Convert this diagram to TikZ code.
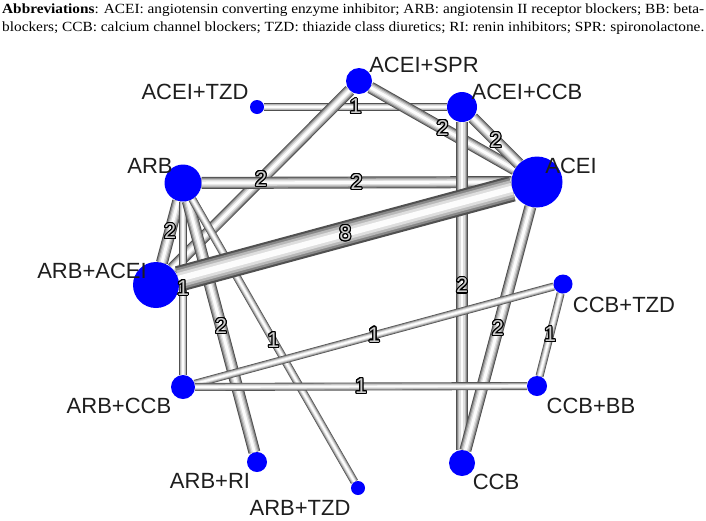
\documentclass[tikz,border=0pt]{standalone}
\usepackage{fontspec}
\usepackage{graphicx}
\setmainfont{Liberation Serif}
\newfontfamily\lsans{Liberation Sans}
\usepackage[copies]{contour}
\contourlength{1.1pt}
\definecolor{nodeblue}{RGB}{0,0,255}
\definecolor{labcol}{RGB}{30,30,30}
\definecolor{wfill}{RGB}{205,205,205}
\pgfdeclarelayer{bg}
\pgfdeclarelayer{fg}
\pgfsetlayers{bg,main,fg}
\newcommand\tube[3]{%
  \foreach \f/\c in {1/80,0.84/135,0.66/185,0.46/222,0.24/252}{%
    \definecolor{tubec}{RGB}{\c,\c,\c}%
    \draw[line width=\f*#3pt, draw=tubec] (#1) -- (#2);
  }}
\newcommand\wt[1]{\contour{black}{\textcolor{wfill}{#1}}}
\begin{document}
\begin{tikzpicture}[x=1pt,y=-1pt,
  nd/.style={circle, fill=nodeblue, draw=none, inner sep=0pt, minimum size=#1},
  lab/.style={font=\lsans\fontsize{22}{22}\selectfont, text=labcol, inner sep=0pt, text height=15.8pt, text depth=0pt},
  wl/.style={font=\lsans\fontsize{21.5}{21.5}\selectfont, inner sep=0pt},
  abbr/.style={font=\fontsize{14}{14}\selectfont, inner sep=0pt, anchor=base west}]
\useasboundingbox (0,0) rectangle (706,520);
% caption
\node[abbr] (abbr1) at (2,13) {\resizebox{702pt}{\height}{\textbf{Abbreviations}: ACEI: angiotensin converting enzyme inhibitor; ARB: angiotensin II receptor blockers; BB: beta-}};
\node[abbr] (abbr2) at (2,31) {\resizebox{702pt}{\height}{blockers; CCB: calcium channel blockers; TZD: thiazide class diuretics; RI: renin inhibitors; SPR: spironolactone.}};
% nodes
\node[nd=26pt] (spr) at (359,81) {};
\node[nd=14pt] (tzd) at (257,107) {};
\node[nd=30pt] (accb) at (462,107) {};
\node[nd=51pt] (acei) at (537,182) {};
\node[nd=37pt] (arb) at (183,183) {};
\node[nd=46pt] (arbacei) at (156,285) {};
\node[nd=24pt] (arbccb) at (183,387) {};
\node[nd=19pt] (ccbtzd) at (563,284) {};
\node[nd=20pt] (ccbbb) at (537,386) {};
\node[nd=20pt] (arbri) at (257,462) {};
\node[nd=14pt] (arbtzd) at (358,488) {};
\node[nd=26pt] (ccb) at (462,463) {};
% node labels
\node[lab] (lspr) at (424,65) {ACEI+SPR};
\node[lab] (ltzd) at (195,92) {ACEI+TZD};
\node[lab] (laccb) at (527,92) {ACEI+CCB};
\node[lab] (lacei) at (571,166) {ACEI};
\node[lab] (larb) at (150,166) {ARB};
\node[lab] (larbacei) at (92,271) {ARB+ACEI};
\node[lab] (larbccb) at (119,406) {ARB+CCB};
\node[lab] (lccbtzd) at (624,305) {CCB+TZD};
\node[lab] (lccbbb) at (591,406) {CCB+BB};
\node[lab] (larbri) at (210,481) {ARB+RI};
\node[lab] (larbtzd) at (300,508) {ARB+TZD};
\node[lab] (lccb) at (496,482) {CCB};
% edges
\begin{pgfonlayer}{bg}
\fill[white] (0,0) rectangle (706,520);
\tube{tzd}{accb}{8}
\tube{spr}{acei}{12}
\tube{accb}{acei}{12}
\tube{spr}{arbacei}{12}
\tube{arb}{acei}{12}
\tube{accb}{ccb}{12}
\tube{acei}{ccb}{12}
\tube{arb}{arbacei}{12}
\tube{arb}{arbccb}{8}
\tube{arb}{arbri}{12}
\tube{arb}{arbtzd}{8}
\tube{arbccb}{ccbtzd}{8}
\tube{arbccb}{ccbbb}{8}
\tube{ccbtzd}{ccbbb}{8}
\tube{arbacei}{acei}{26}
\end{pgfonlayer}
% edge weights
\begin{pgfonlayer}{fg}
\path (tzd) -- (accb) node[wl,pos=.5] (w1) {\wt{1}};
\path (spr) -- (acei) node[wl,pos=.5] (w2) {\wt{2}};
\path (accb) -- (acei) node[wl,pos=.5] (w3) {\wt{2}};
\path (spr) -- (arbacei) node[wl,pos=.5] (w4) {\wt{2}};
\path (arb) -- (acei) node[wl,pos=.5] (w5) {\wt{2}};
\path (arbacei) -- (acei) node[wl,pos=.5] (w6) {\wt{8}};
\path (accb) -- (ccb) node[wl,pos=.5] (w7) {\wt{2}};
\path (acei) -- (ccb) node[wl,pos=.5] (w8) {\wt{2}};
\path (arb) -- (arbacei) node[wl,pos=.5] (w9) {\wt{2}};
\path (arb) -- (arbccb) node[wl,pos=.5] (w10) {\wt{1}};
\path (arb) -- (arbri) node[wl,pos=.5] (w11) {\wt{2}};
\path (arb) -- (arbtzd) node[wl,pos=.5] (w12) {\wt{1}};
\path (arbccb) -- (ccbtzd) node[wl,pos=.5] (w13) {\wt{1}};
\path (arbccb) -- (ccbbb) node[wl,pos=.5] (w14) {\wt{1}};
\path (ccbtzd) -- (ccbbb) node[wl,pos=.5] (w15) {\wt{1}};
\end{pgfonlayer}
\end{tikzpicture}
\end{document}
